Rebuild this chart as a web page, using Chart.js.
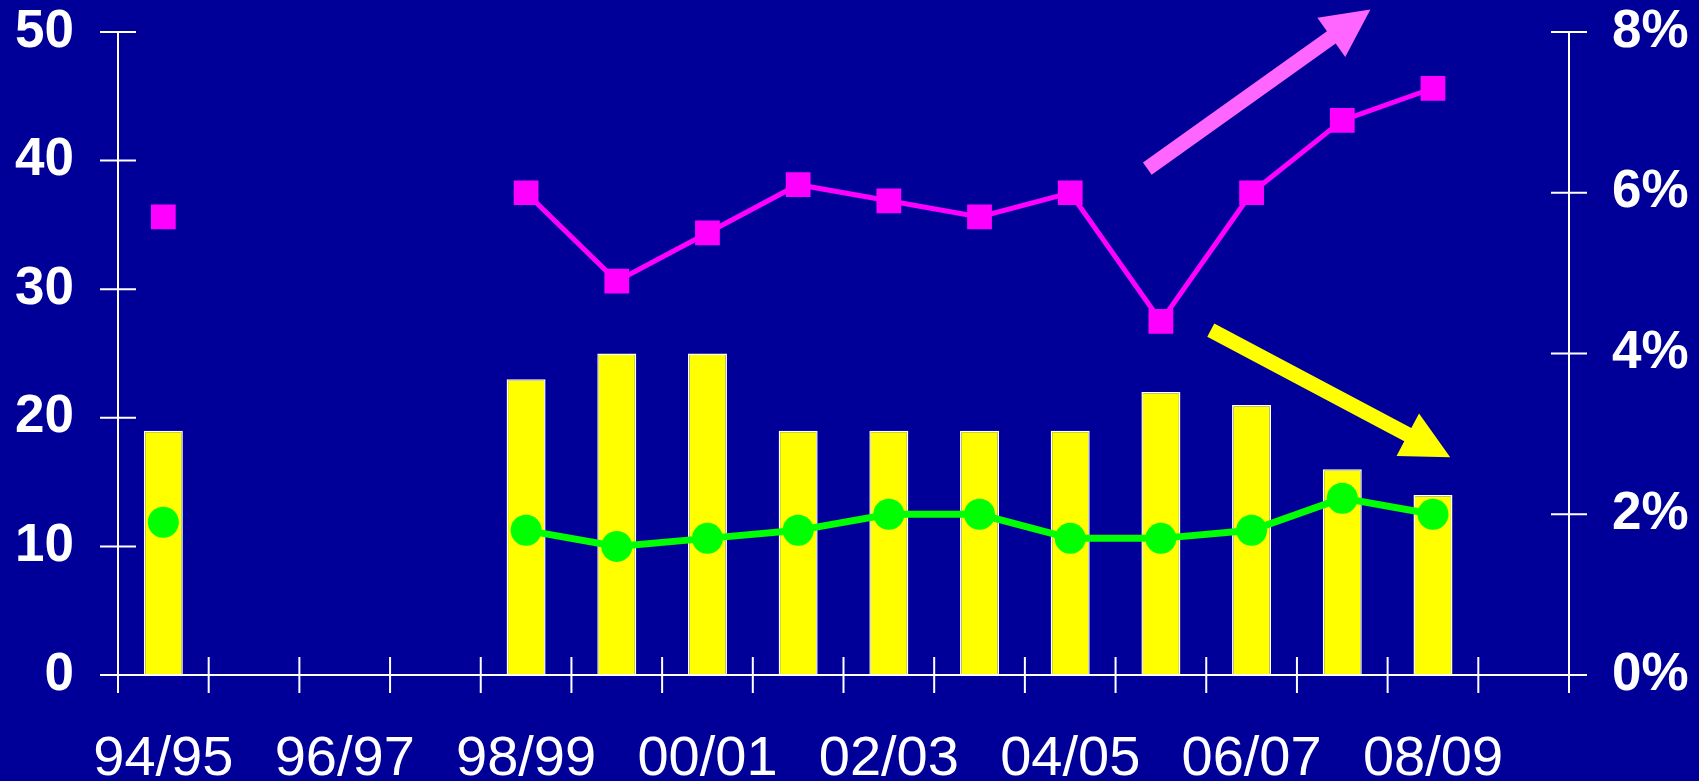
<!DOCTYPE html>
<html>
<head>
<meta charset="utf-8">
<script src="https://cdn.jsdelivr.net/npm/chart.js@4/dist/chart.umd.min.js"></script>
<style>
  html, body { margin: 0; padding: 0; background: #000099; }
  #wrap { width: 1699px; height: 781px; position: relative; }
</style>
</head>
<body>
<div id="wrap"><canvas id="chart"></canvas></div>
<script>
'use strict';

// Seasons along the x axis (every other one is labelled)
const seasons = ['94/95','95/96','96/97','97/98','98/99','99/00','00/01','01/02',
                 '02/03','03/04','04/05','05/06','06/07','07/08','08/09','09/10'];

// Yellow bars, left axis (0-50)
const barValues = [19, null, null, null, 23, 25, 25, 19, 19, 19, 19, 22, 21, 16, 14, null];

// Magenta squares, right axis (%)
const magentaPct = [5.7, null, null, null, 6.0, 4.9, 5.5, 6.1, 5.9, 5.7, 6.0, 4.4, 6.0, 6.9, 7.3, null];

// Green circles, right axis (%)
const greenPct = [1.9, null, null, null, 1.8, 1.6, 1.7, 1.8, 2.0, 2.0, 1.7, 1.7, 1.8, 2.2, 2.0, null];

// Axis tick values
const leftTicks  = [0, 10, 20, 30, 40, 50];
const rightTicks = [0, 2, 4, 6, 8];

// Trend arrows, in data space: [category index, right-axis %]
const trendArrows = [
  { from: [10.85, 6.30], to: [13.31, 8.28], color: '#ff66ff' },
  { from: [11.55, 4.29], to: [14.19, 2.71], color: '#ffff00' }
];

const TICK = 18;

function drawArrow(ctx, x0, y0, x1, y1, color) {
  const shaft = 15, headLen = 48, headHalf = 24;
  const dx = x1 - x0, dy = y1 - y0;
  const len = Math.hypot(dx, dy);
  const ux = dx / len, uy = dy / len;
  const nx = -uy, ny = ux;
  const bx = x1 - ux * headLen, by = y1 - uy * headLen;
  ctx.fillStyle = color;
  ctx.beginPath();
  ctx.moveTo(x0 + nx * shaft / 2, y0 + ny * shaft / 2);
  ctx.lineTo(bx + nx * shaft / 2, by + ny * shaft / 2);
  ctx.lineTo(bx + nx * headHalf, by + ny * headHalf);
  ctx.lineTo(x1, y1);
  ctx.lineTo(bx - nx * headHalf, by - ny * headHalf);
  ctx.lineTo(bx - nx * shaft / 2, by - ny * shaft / 2);
  ctx.lineTo(x0 - nx * shaft / 2, y0 - ny * shaft / 2);
  ctx.closePath();
  ctx.fill();
}

// Axis lines with cross ticks, and the two trend arrows
const axisDecor = {
  id: 'axisDecor',
  beforeDraw(chart) {
    const { ctx, width, height } = chart;
    ctx.save();
    ctx.fillStyle = '#000099';
    ctx.fillRect(0, 0, width, height);
    ctx.restore();
  },
  afterDatasetsDraw(chart) {
    const { ctx, chartArea: a, scales: { x, y, y1 } } = chart;
    ctx.save();
    ctx.strokeStyle = '#ffffff';
    ctx.lineWidth = 2;
    ctx.beginPath();
    ctx.moveTo(a.left, a.top);  ctx.lineTo(a.left, a.bottom);
    ctx.moveTo(a.right, a.top); ctx.lineTo(a.right, a.bottom + TICK);
    ctx.moveTo(a.left - TICK, a.bottom); ctx.lineTo(a.right + TICK, a.bottom);
    leftTicks.forEach(v => {
      const py = y.getPixelForValue(v);
      ctx.moveTo(a.left - TICK, py); ctx.lineTo(a.left + TICK, py);
    });
    rightTicks.forEach(v => {
      const py = y1.getPixelForValue(v);
      ctx.moveTo(a.right - TICK, py); ctx.lineTo(a.right + TICK, py);
    });
    for (let i = 0; i <= seasons.length; i++) {
      const px = x.getPixelForValue(i - 0.5);
      ctx.moveTo(px, a.bottom - TICK); ctx.lineTo(px, a.bottom + TICK);
    }
    ctx.stroke();

    trendArrows.forEach(ar => {
      drawArrow(ctx,
        x.getPixelForValue(ar.from[0]), y1.getPixelForValue(ar.from[1]),
        x.getPixelForValue(ar.to[0]),   y1.getPixelForValue(ar.to[1]),
        ar.color);
    });
    ctx.restore();
  }
};

const FAMILY = "'Liberation Sans', Arial, Helvetica, sans-serif";
const boldFont = { family: FAMILY, size: 53, weight: 'bold' };

new Chart(document.getElementById('chart').getContext('2d'), {
  type: 'bar',
  data: {
    labels: seasons,
    datasets: [
      {
        type: 'line',
        data: magentaPct,
        yAxisID: 'y1',
        borderColor: '#ff00ff',
        backgroundColor: '#ff00ff',
        borderWidth: 5,
        pointStyle: 'rect',
        pointRadius: 17.5,
        pointBorderWidth: 0,
        spanGaps: false,
        order: 1
      },
      {
        type: 'line',
        data: greenPct,
        yAxisID: 'y1',
        borderColor: '#00ff00',
        backgroundColor: '#00ff00',
        borderWidth: 7,
        pointStyle: 'circle',
        pointRadius: 15.5,
        pointBorderWidth: 0,
        spanGaps: false,
        order: 2
      },
      {
        type: 'bar',
        data: barValues,
        yAxisID: 'y',
        backgroundColor: '#ffff00',
        borderColor: '#ffffff',
        borderWidth: 1.5,
        borderSkipped: 'bottom',
        barPercentage: 0.43,
        categoryPercentage: 1,
        order: 3
      }
    ]
  },
  options: {
    responsive: true,
    maintainAspectRatio: false,
    animation: false,
    layout: { padding: { top: 32, left: 0, right: 0, bottom: 0 } },
    plugins: { legend: { display: false }, tooltip: { enabled: false } },
    scales: {
      x: {
        grid: { display: false, drawTicks: false },
        border: { display: false },
        ticks: {
          color: '#ffffff',
          autoSkip: false,
          maxRotation: 0,
          padding: 51,
          font: { family: FAMILY, size: 56 },
          callback: (v, i) => (i % 2 === 0 ? seasons[i] : '')
        },
        afterFit: s => { s.height = 106; s.paddingLeft = 0; s.paddingRight = 0; }
      },
      y: {
        position: 'left',
        min: 0, max: 50,
        grid: { display: false, drawTicks: false },
        border: { display: false },
        ticks: { color: '#ffffff', stepSize: 10, padding: 44, font: boldFont },
        afterFit: s => { s.width = 118; s.paddingTop = 0; s.paddingBottom = 0; }
      },
      y1: {
        position: 'right',
        min: 0, max: 8,
        grid: { display: false, drawTicks: false },
        border: { display: false },
        ticks: { color: '#ffffff', stepSize: 2, padding: 43, font: boldFont, callback: v => v + '%' },
        afterFit: s => { s.width = 130; s.paddingTop = 0; s.paddingBottom = 0; }
      }
    }
  },
  plugins: [axisDecor]
});
</script>
</body>
</html>
